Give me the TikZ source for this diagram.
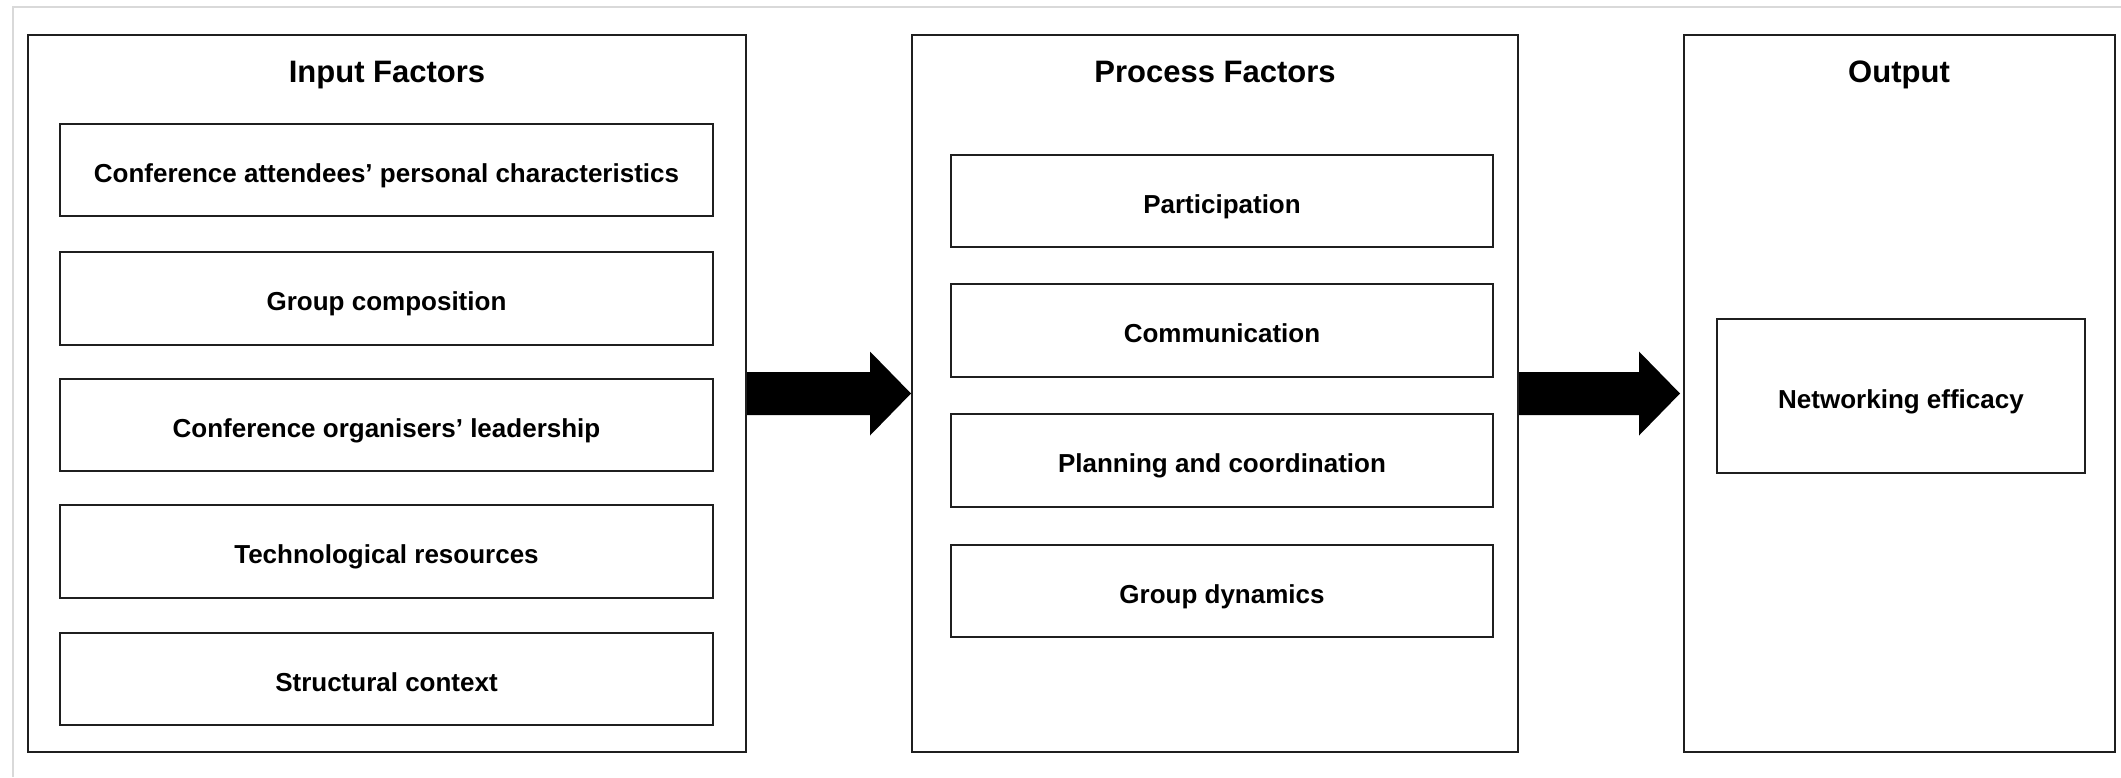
\documentclass[tikz,border=0pt]{standalone}
\usepackage{fontspec}
\setmainfont{Liberation Sans}
\usetikzlibrary{calc}
\begin{document}
\begin{tikzpicture}[x=1pt,y=-1pt,
  outerbox/.style={draw=black!88,line width=2pt,inner sep=0pt,minimum height=717pt},
  itembox/.style={draw=black!88,line width=1.6pt,inner sep=0pt,minimum height=92.5pt,
     text height=24pt,text depth=0pt,
     font=\fontsize{26}{30}\selectfont\bfseries},
  titletext/.style={inner sep=0pt,text height=22.2pt,text depth=0pt,
     font=\fontsize{31}{36}\selectfont\bfseries},
  bigarrow/.style={fill=black}]
\useasboundingbox (0,0) rectangle (2121,777);
% light frame
\draw[black!15,line width=2pt] (13,777) -- (13,7) -- (2121,7);
% outer boxes
\node[outerbox,minimum width=718pt] (in) at (387,393.5) {};
\node[outerbox,minimum width=606pt] (proc) at (1215,393.5) {};
\node[outerbox,minimum width=431pt] (out) at (1899.5,393.5) {};
% titles
\node[titletext] (tin) at (387,71) {Input Factors};
\node[titletext] (tproc) at (1215,71) {Process Factors};
\node[titletext] (tout) at (1899,71) {Output};
% input items
\node[itembox,minimum width=653pt] (i1) at (386.5,170) {Conference attendees’ personal characteristics};
\node[itembox,minimum width=653pt] (i2) at (386.5,298.5) {Group composition};
\node[itembox,minimum width=653pt] (i3) at (386.5,425) {Conference organisers’ leadership};
\node[itembox,minimum width=653pt] (i4) at (386.5,551.5) {Technological resources};
\node[itembox,minimum width=653pt] (i5) at (386.5,679) {Structural context};
% process items
\node[itembox,minimum width=542pt] (p1) at (1222,201) {Participation};
\node[itembox,minimum width=542pt] (p2) at (1222,330.5) {Communication};
\node[itembox,minimum width=542pt] (p3) at (1222,460.5) {Planning and coordination};
\node[itembox,minimum width=542pt] (p4) at (1222,591) {Group dynamics};
% output item
\node[itembox,minimum width=368pt,minimum height=154pt] (o1) at (1901,396) {Networking efficacy};
% arrows
\fill[bigarrow] let \p1=(in.east), \p2=(proc.west) in
  (\x1,\y1+21.5pt) -- (\x2-41pt,\y1+21.5pt) -- (\x2-41pt,\y1+42pt) -- (\x2,\y1)
  -- (\x2-41pt,\y1-42pt) -- (\x2-41pt,\y1-21.5pt) -- (\x1,\y1-21.5pt) -- cycle;
\fill[bigarrow] let \p1=(proc.east), \p2=(out.west) in
  (\x1,\y1+21.5pt) -- (\x2-44pt,\y1+21.5pt) -- (\x2-44pt,\y1+42pt) -- (\x2-3pt,\y1)
  -- (\x2-44pt,\y1-42pt) -- (\x2-44pt,\y1-21.5pt) -- (\x1,\y1-21.5pt) -- cycle;
\end{tikzpicture}
\end{document}
